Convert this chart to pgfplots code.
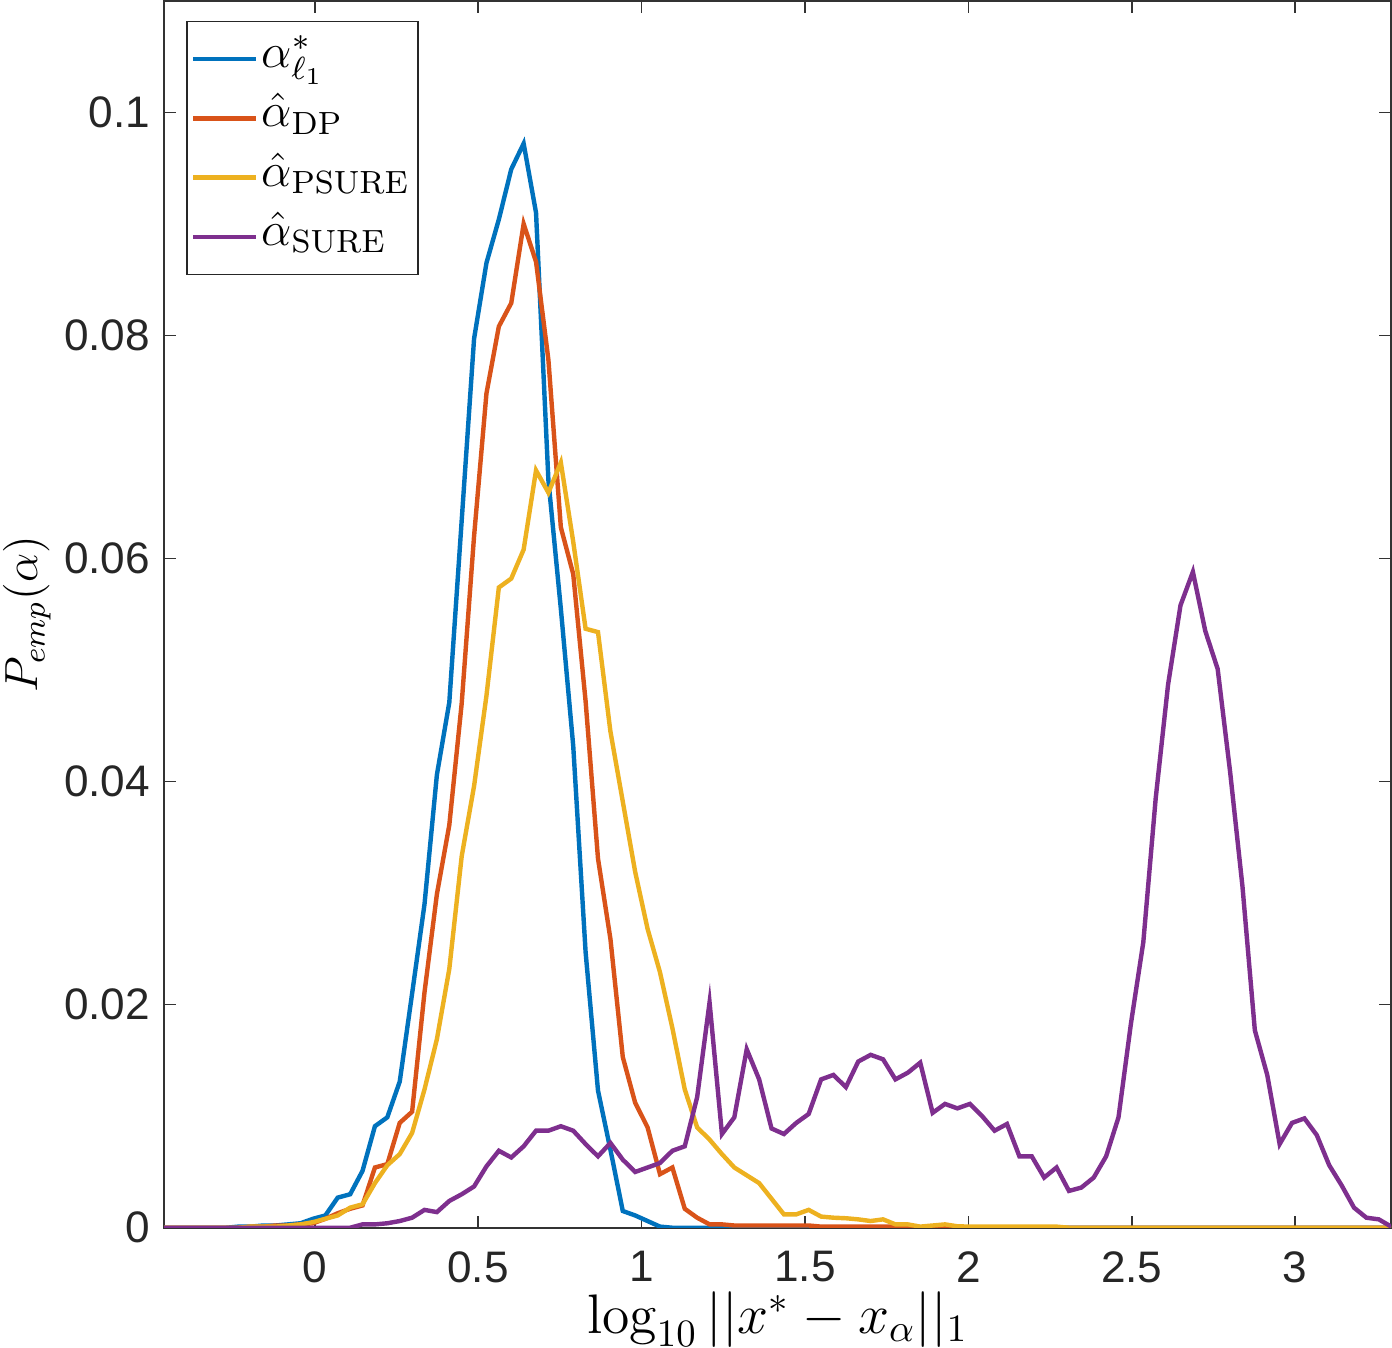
\documentclass[border=0pt]{standalone}
\usepackage{pgfplots}
\pgfplotsset{compat=1.18}
\usepackage{pgfplotstable}
\usepackage{fontspec}
\newfontfamily\ticksf{Liberation Sans}
\definecolor{mblue}{rgb}{0,0.447,0.741}
\definecolor{mred}{rgb}{0.850,0.325,0.098}
\definecolor{myellow}{rgb}{0.929,0.694,0.125}
\definecolor{mpurple}{rgb}{0.494,0.184,0.556}
\pgfplotstableread{
x b r yl p
-0.4605 0 0 0 0
-0.4226 0 0 0 0
-0.3846 0 0 0 0
-0.3467 0 0 0 0
-0.3088 0 0 0 0
-0.2709 0 0 0 0
-0.2330 0.0001 0 0 0
-0.1950 0.0001 0.0001 0.0001 0
-0.1571 0.0002 0.0001 0.0001 0
-0.1192 0.0002 0.0002 0.0001 0
-0.0813 0.0003 0.0002 0.0002 0
-0.0433 0.0004 0.0003 0.0003 0
-0.0054 0.0008 0.0004 0.0005 0
0.0325 0.0011 0.0008 0.0008 0
0.0704 0.0027 0.0013 0.0011 0
0.1084 0.0030 0.0017 0.0018 0
0.1463 0.0051 0.0020 0.0021 0.0003
0.1842 0.0091 0.0054 0.0040 0.0003
0.2221 0.0099 0.0057 0.0056 0.0004
0.2601 0.0131 0.0094 0.0066 0.0006
0.2980 0.0210 0.0104 0.0085 0.0009
0.3359 0.0290 0.0211 0.0124 0.0016
0.3738 0.0406 0.0299 0.0169 0.0014
0.4118 0.0471 0.0361 0.0232 0.0024
0.4497 0.0634 0.0470 0.0333 0.0030
0.4876 0.0797 0.0620 0.0396 0.0037
0.5255 0.0865 0.0748 0.0477 0.0055
0.5634 0.0904 0.0808 0.0574 0.0069
0.6014 0.0949 0.0829 0.0582 0.0063
0.6393 0.0972 0.0900 0.0608 0.0073
0.6772 0.0910 0.0866 0.0679 0.0087
0.7151 0.0670 0.0778 0.0659 0.0087
0.7531 0.0555 0.0628 0.0686 0.0091
0.7910 0.0432 0.0586 0.0615 0.0087
0.8289 0.0247 0.0472 0.0537 0.0075
0.8668 0.0123 0.0331 0.0534 0.0064
0.9048 0.0070 0.0259 0.0445 0.0076
0.9427 0.0015 0.0153 0.0382 0.0061
0.9806 0.0011 0.0112 0.0319 0.0050
1.0185 0.0006 0.0090 0.0268 0.0054
1.0565 0.0001 0.0048 0.0229 0.0058
1.0944 0 0.0054 0.0179 0.0069
1.1323 0 0.0017 0.0124 0.0073
1.1702 0 0.0009 0.0090 0.0117
1.2082 0 0.0003 0.0079 0.0202
1.2461 0 0.0003 0.0066 0.0084
1.2840 0 0.0002 0.0054 0.0099
1.3219 0 0.0002 0.0047 0.0160
1.3599 0 0.0002 0.0040 0.0133
1.3978 0 0.0002 0.0026 0.0089
1.4357 0 0.0002 0.0012 0.0084
1.4736 0 0.0002 0.0012 0.0094
1.5115 0 0.0002 0.0016 0.0102
1.5495 0 0.0001 0.0010 0.0133
1.5874 0 0.0001 0.0009 0.0137
1.6253 0 0.0001 0.00085 0.0126
1.6632 0 0.0001 0.00075 0.0149
1.7012 0 0.0001 0.0006 0.0155
1.7391 0 0.0001 0.00075 0.0151
1.7770 0 0.0001 0.0003 0.0133
1.8149 0 0.0001 0.0003 0.0139
1.8529 0 0 0.0001 0.0148
1.8908 0 0 0.0002 0.0103
1.9287 0 0 0.0003 0.0111
1.9666 0 0 0.00013 0.0107
2.0046 0 0 0.0001 0.0111
2.0425 0 0 0.0001 0.0100
2.0804 0 0 0.0001 0.0087
2.1183 0 0 0.0001 0.0093
2.1563 0 0 0.0001 0.0064
2.1942 0 0 0.0001 0.0064
2.2321 0 0 0.0001 0.0045
2.2700 0 0 0.0001 0.0054
2.3080 0 0 0 0.0033
2.3459 0 0 0 0.0036
2.3838 0 0 0 0.0045
2.4217 0 0 0 0.0064
2.4596 0 0 0 0.0099
2.4976 0 0 0 0.0183
2.5355 0 0 0 0.0256
2.5734 0 0 0 0.0385
2.6113 0 0 0 0.0487
2.6493 0 0 0 0.0558
2.6872 0 0 0 0.0588
2.7251 0 0 0 0.0535
2.7630 0 0 0 0.0501
2.8010 0 0 0 0.0409
2.8389 0 0 0 0.0306
2.8768 0 0 0 0.0177
2.9147 0 0 0 0.0137
2.9527 0 0 0 0.0075
2.9906 0 0 0 0.0094
3.0285 0 0 0 0.0098
3.0664 0 0 0 0.0083
3.1044 0 0 0 0.0056
3.1423 0 0 0 0.0038
3.1802 0 0 0 0.0018
3.2181 0 0 0 0.0009
3.2561 0 0 0 0.00075
3.2940 0 0 0 0.0001
}\datatable
\begin{document}
\begin{tikzpicture}
\begin{axis}[
  scale only axis, width=305.75pt, height=305.75pt,
  xmin=-0.4605, xmax=3.294, ymin=0, ymax=0.11,
  xtick={0,0.5,1,1.5,2,2.5,3},
  ytick={0,0.02,0.04,0.06,0.08,0.1},
  scaled x ticks=false, scaled y ticks=false,
  /pgf/number format/fixed, /pgf/number format/precision=2,
  /pgf/number format/assume math mode=true,
  tick label style={font=\ticksf\fontsize{11}{13}\selectfont, text=black!85},
  xticklabel style={inner sep=0pt, yshift=-5.75pt},
  tick align=inside, tick pos=both, major tick length=3pt,
  axis line style={black!80, line width=0.4pt},
  every tick/.style={black!80, line width=0.4pt},
  xlabel={$\log_{10}||x^*-x_\alpha||_1$},
  ylabel={$P_{emp}(\alpha)$},
  xlabel style={font=\fontsize{14.4}{17}\selectfont, scale=0.964, inner sep=0pt, at={(axis description cs:0.5,-0.086)}, anchor=base},
  ylabel style={font=\fontsize{12}{15}\selectfont, scale=0.965, inner xsep=0pt, inner ysep=0.75pt, at={(axis description cs:-0.112,0.5)}, anchor=center},
  legend style={at={(axis description cs:0,1)}, anchor=north west, xshift=5.5pt, yshift=-5pt,
    draw=black!85, line width=0.4pt, font=\fontsize{12}{14}\selectfont,
    inner xsep=1pt, inner ysep=2pt, row sep=0pt,
    nodes={inner sep=1pt, text height=8.5pt, text depth=4.25pt}},
  legend cell align=left,
  legend image code/.code={\draw[#1, line width=1.1pt] (0pt,0pt) -- (15.5pt,0pt);},
  every axis plot/.append style={line width=1.1pt},
]
\addplot[mblue] table[x=x, y=b] {\datatable};
\addlegendentry{$\alpha^*_{\ell_1}$}
\addplot[mred] table[x=x, y=r] {\datatable};
\addlegendentry{$\hat\alpha_{\mathrm{DP}}$}
\addplot[myellow] table[x=x, y=yl] {\datatable};
\addlegendentry{$\hat\alpha_{\mathrm{PSURE}}$}
\addplot[mpurple] table[x=x, y=p] {\datatable};
\addlegendentry{$\hat\alpha_{\mathrm{SURE}}$}
\end{axis}
\end{tikzpicture}
\end{document}
